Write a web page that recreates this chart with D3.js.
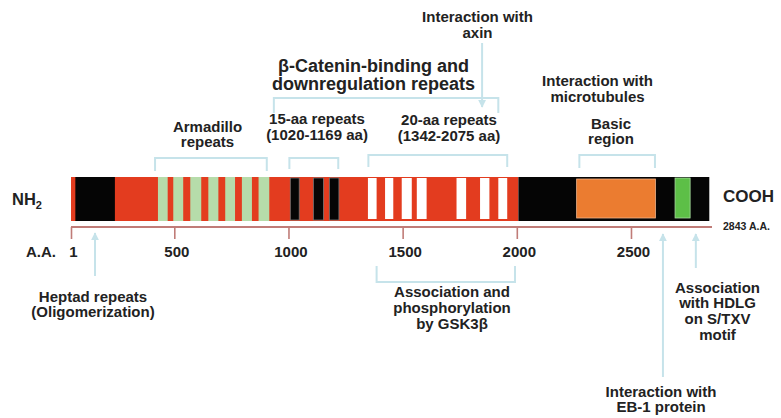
<!DOCTYPE html>
<html><head><meta charset="utf-8">
<script src="https://cdn.jsdelivr.net/npm/d3@7"></script>
<style>
html,body{margin:0;padding:0;background:#fff;}
svg text{font-family:"Liberation Sans",Arial,sans-serif;font-weight:bold;fill:#222;}
</style></head>
<body>
<svg id="c" width="781" height="418"></svg>
<script>
// ---- data (amino-acid positions) ----
const proteinLength = 2843;
const tickValues = [1, 500, 1000, 1500, 2000, 2500];
const redRegion = [1, 2007];
const blackRegions = [[22, 213], [2007, 2843]];
const armadilloRepeats = [[421,468],[495,539],[570,618],[649,693],[723,766],[796,840],[869,916]];
const fifteenAaRepeats = [[1008,1047],[1109,1153],[1179,1221]];
const twentyAaRepeats = [[1348,1386],[1423,1459],[1496,1540],[1562,1605],[1736,1778],[1839,1880],[1919,1958]];
const basicRegion = [2262, 2607];
const stxvMotif = [2693, 2759];
const armadilloBracket = [407, 905];
const fifteenBracket = [1004, 1218];
const twentyBracket = [1350, 1958];
const cateninBracket = [936, 1919];
const basicBracket = [2274, 2605];
const gskBracket = [1386, 1992];
const heptadArrow = 117, axinArrow = 1848, eb1Arrow = 2640, hdlgArrow = 2784;

const svg = d3.select("#c");
const x = d3.scaleLinear().domain([1, 500, proteinLength]).range([71, 174.3, 709.3]);
const barTop = 177, barBot = 221;
const C = {red:"#e33c1f", black:"#050505", lgreen:"#b6dcaa", white:"#ffffff", orange:"#eb7c30", green:"#5dbf47", blue:"#c6e3ea", axis:"#c07c78"};

const g = svg.append("g");
function seg(a, b, fill, inset, stroke) {
  inset = inset || [0,0];
  const r = g.append("rect")
    .attr("x", x(a)).attr("width", x(b) - x(a))
    .attr("y", barTop + inset[0]).attr("height", barBot - barTop - inset[0] - inset[1])
    .attr("fill", fill);
  if (stroke) r.attr("stroke", stroke).attr("stroke-width", 0.8);
}
seg(redRegion[0], redRegion[1], C.red);
blackRegions.forEach(d => seg(d[0], d[1], C.black));
armadilloRepeats.forEach(d => seg(d[0], d[1], C.lgreen));
fifteenAaRepeats.forEach(d => seg(d[0], d[1], C.black, [1,1], "#777"));
twentyAaRepeats.forEach(d => seg(d[0], d[1], C.white, [1,2]));
seg(basicRegion[0], basicRegion[1], C.orange, [2,3], "#f2b48a");
seg(stxvMotif[0], stxvMotif[1], C.green, [1,3], "#a9dca0");

// ---- axis ----
const axisY = 227;
const ax = svg.append("g").attr("transform", `translate(0,${axisY})`)
  .call(d3.axisBottom(x).tickValues(tickValues).tickSize(12).tickSizeOuter(0).tickFormat(d3.format("d")));
ax.select(".domain").attr("stroke", C.axis).attr("stroke-width", 2).attr("d", `M${x(1)},0H712`);
ax.selectAll(".tick line").attr("stroke", C.axis).attr("stroke-width", 1.6);
ax.selectAll(".tick text").attr("y", 30).attr("dy", 0).attr("dx", 2)
  .style("font-size", "15px").style("font-family", "Liberation Sans, Arial, sans-serif").style("font-weight", "bold").attr("fill", "#222");

// ---- brackets & arrows ----
const bl = svg.append("g").attr("fill", "none").attr("stroke", C.blue).attr("stroke-width", 2);
function bracketDown(r, yTop, yBot) {
  bl.append("path").attr("d", `M${x(r[0])},${yBot}V${yTop}H${x(r[1])}V${yBot}`);
}
function bracketUp(r, yTop, yBot) {
  bl.append("path").attr("d", `M${x(r[0])},${yTop}V${yBot}H${x(r[1])}V${yTop}`);
}
bracketDown(armadilloBracket, 158, 171);
bracketDown(fifteenBracket, 158, 169);
bracketDown(twentyBracket, 155, 167);
bracketDown(basicBracket, 155, 168);
bracketDown(cateninBracket, 98, 113);
bracketUp(gskBracket, 266, 282);

const defs = svg.append("defs");
defs.append("marker").attr("id", "ah").attr("viewBox", "0 0 10 10").attr("refX", 9).attr("refY", 5)
  .attr("markerWidth", 4).attr("markerHeight", 4).attr("orient", "auto")
  .append("path").attr("d", "M0,0L10,5L0,10Z").attr("fill", C.blue);
function arrow(aa, y1, y2) {
  bl.append("line").attr("x1", x(aa)).attr("x2", x(aa)).attr("y1", y1).attr("y2", y2).attr("marker-end", "url(#ah)");
}
arrow(axinArrow, 43, 107);
arrow(heptadArrow, 276, 233);
arrow(eb1Arrow, 377, 234);
arrow(hdlgArrow, 268, 234);

// ---- labels ----
const t = svg.append("g").attr("text-anchor", "middle");
function label(cx, y0, lines, size, lh) {
  lines.forEach((l, i) => t.append("text").attr("x", cx).attr("y", y0 + i * lh)
    .style("font-size", size + "px").text(l));
}
label(477.5, 21.5, ["Interaction with", "axin"], 15, 16);
label(373.5, 71.5, ["β-Catenin-binding and", "downregulation repeats"], 18, 18.5);
label(597.5, 86, ["Interaction with", "microtubules"], 15, 16);
label(207.5, 131.5, ["Armadillo", "repeats"], 15, 15.5);
label(317, 123.5, ["15-aa repeats", "(1020-1169 aa)"], 15, 16.5);
label(449, 124.5, ["20-aa repeats", "(1342-2075 aa)"], 15, 16.5);
label(611, 128.5, ["Basic", "region"], 15, 15.5);
label(93, 301.5, ["Heptad repeats", "(Oligomerization)"], 15, 15.5);
label(452, 297, ["Association and", "phosphorylation", "by GSK3β"], 15, 16);
label(717.5, 292.5, ["Association", "with HDLG", "on S/TXV", "motif"], 15, 15.8);
label(661, 396.5, ["Interaction with", "EB-1 protein"], 15, 15.5);

svg.append("text").attr("x", 12).attr("y", 205).style("font-size", "16.5px").text("NH").append("tspan").attr("dy", 4).style("font-size", "11px").text("2");
svg.append("text").attr("x", 723).attr("y", 202).style("font-size", "17px").text("COOH");
svg.append("text").attr("x", 723).attr("y", 229.5).style("font-size", "10.5px").text("2843 A.A.");
svg.append("text").attr("x", 26).attr("y", 257).style("font-size", "15px").text("A.A.");
</script>
</body></html>
